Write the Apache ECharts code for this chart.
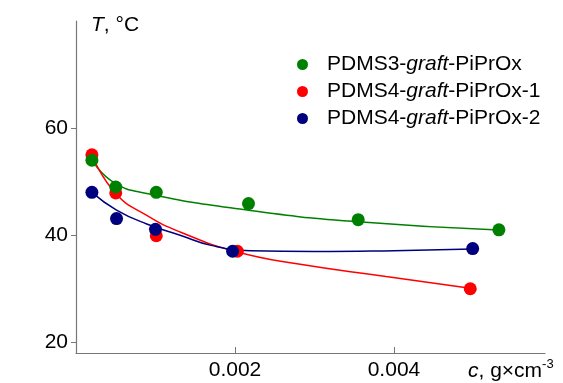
<!DOCTYPE html>
<html>
<head>
<meta charset="utf-8">
<script src="https://cdn.jsdelivr.net/npm/echarts@6/dist/echarts.min.js"></script>
<style>
  html, body { margin: 0; padding: 0; background: #fff; }
  #chart { width: 563px; height: 383px; }
</style>
</head>
<body>
<div id="chart"></div>
<script>
const seriesNames = ['PDMS3-graft-PiPrOx', 'PDMS4-graft-PiPrOx-1', 'PDMS4-graft-PiPrOx-2'];
const legendLabels = ['PDMS3-{i|graft}-PiPrOx', 'PDMS4-{i|graft}-PiPrOx-1', 'PDMS4-{i|graft}-PiPrOx-2'];
const colors = ['#008000', '#ff0000', '#00007f'];

// measured points [c, T]
const pdms3Points = [[0.0002, 54.0], [0.0005, 49.0], [0.00101, 48.0], [0.00217, 45.9], [0.00355, 42.9], [0.00532, 41.0]];
const pdms4aPoints = [[0.0002, 55.0], [0.0005, 47.9], [0.00101, 39.9], [0.00203, 37.0], [0.00496, 30.0]];
const pdms4bPoints = [[0.0002, 48.0], [0.00051, 43.1], [0.001, 41.1], [0.00197, 37.0], [0.00499, 37.5]];

// fitted curves
const pdms3Fit = [[0.0002, 54.0], [0.00047, 49.9], [0.00089, 47.8], [0.00215, 44.7], [0.00355, 42.5], [0.00532, 40.95]];
const pdms4aFit = [[0.0002, 54.9], [0.0005, 47.8], [0.00089, 43.7], [0.00131, 40.6], [0.00202, 36.9], [0.0028, 34.6], [0.0039, 32.3], [0.00496, 30.1]];
const pdms4bFit = [[0.0002, 48.0], [0.00051, 44.7], [0.00089, 42.1], [0.00131, 40.0], [0.0017, 38.1], [0.0022, 37.1], [0.003, 36.95], [0.004, 37.1], [0.00499, 37.4]];

const xTicks = [0.002, 0.004];
const yTicks = [20, 40, 60];

const font = 'Liberation Sans, Arial, sans-serif';
const pointSets = [pdms3Points, pdms4aPoints, pdms4bPoints];
const fitSets = [pdms3Fit, pdms4aFit, pdms4bFit];
const zOrder = [4, 3, 5];

const series = [];
fitSets.forEach((d, i) => {
  series.push({
    name: 'fit' + i,
    type: 'line',
    data: d,
    smooth: 0.5,
    showSymbol: false,
    lineStyle: { color: colors[i], width: 1.5 },
    z: 2,
    silent: true
  });
});
pointSets.forEach((d, i) => {
  series.push({
    name: seriesNames[i],
    type: 'scatter',
    data: d,
    symbol: 'circle',
    symbolSize: 13,
    itemStyle: { color: colors[i], opacity: 1 },
    z: zOrder[i]
  });
});

const chart = echarts.init(document.getElementById('chart'));
chart.setOption({
  animation: false,
  backgroundColor: '#fff',
  textStyle: { fontFamily: font },
  grid: { left: 76, top: 21, right: 18, bottom: 30, containLabel: false },
  legend: {
    data: seriesNames,
    orient: 'vertical',
    left: 292,
    top: 49,
    itemGap: 6,
    itemWidth: 11,
    itemHeight: 11,
    icon: 'circle',
    selectedMode: false,
    formatter: name => legendLabels[seriesNames.indexOf(name)],
    textStyle: {
      fontSize: 21,
      lineHeight: 21,
      color: '#000',
      fontFamily: font,
      padding: [0, 0, 0, 14],
      rich: { i: { fontSize: 21, fontStyle: 'italic', fontFamily: font } }
    }
  },
  xAxis: {
    type: 'value',
    min: 0,
    max: 0.0059,
    splitLine: { show: false },
    axisLine: { lineStyle: { color: '#777', width: 1.2 } },
    axisTick: { inside: true, length: 6, customValues: xTicks, lineStyle: { color: '#777' } },
    axisLabel: { customValues: xTicks, fontSize: 21, color: '#000', margin: 7, fontFamily: font },
    name: '{i|c}, g×cm{sup|-3}',
    nameLocation: 'end',
    nameGap: -77,
    nameTextStyle: {
      fontSize: 21,
      color: '#000',
      align: 'left',
      verticalAlign: 'top',
      padding: [5, 0, 0, 0],
      fontFamily: font,
      rich: {
        i: { fontSize: 21, fontStyle: 'italic', fontFamily: font },
        sup: { fontSize: 13, padding: [0, 0, 14, 0], fontFamily: font }
      }
    }
  },
  yAxis: {
    type: 'value',
    min: 18,
    max: 80,
    splitLine: { show: false },
    axisLine: { show: true, lineStyle: { color: '#777', width: 1.2 } },
    axisTick: { show: true, inside: false, length: 5, customValues: yTicks, lineStyle: { color: '#777' } },
    axisLabel: { customValues: yTicks, fontSize: 21, color: '#000', margin: 8, fontFamily: font },
    name: '{i|T}, °C',
    nameLocation: 'end',
    nameGap: -4,
    nameTextStyle: {
      fontSize: 21,
      color: '#000',
      align: 'left',
      verticalAlign: 'middle',
      padding: [0, 0, 0, 15],
      fontFamily: font,
      rich: { i: { fontSize: 21, fontStyle: 'italic', fontFamily: font } }
    }
  },
  series: series
});
</script>
</body>
</html>
